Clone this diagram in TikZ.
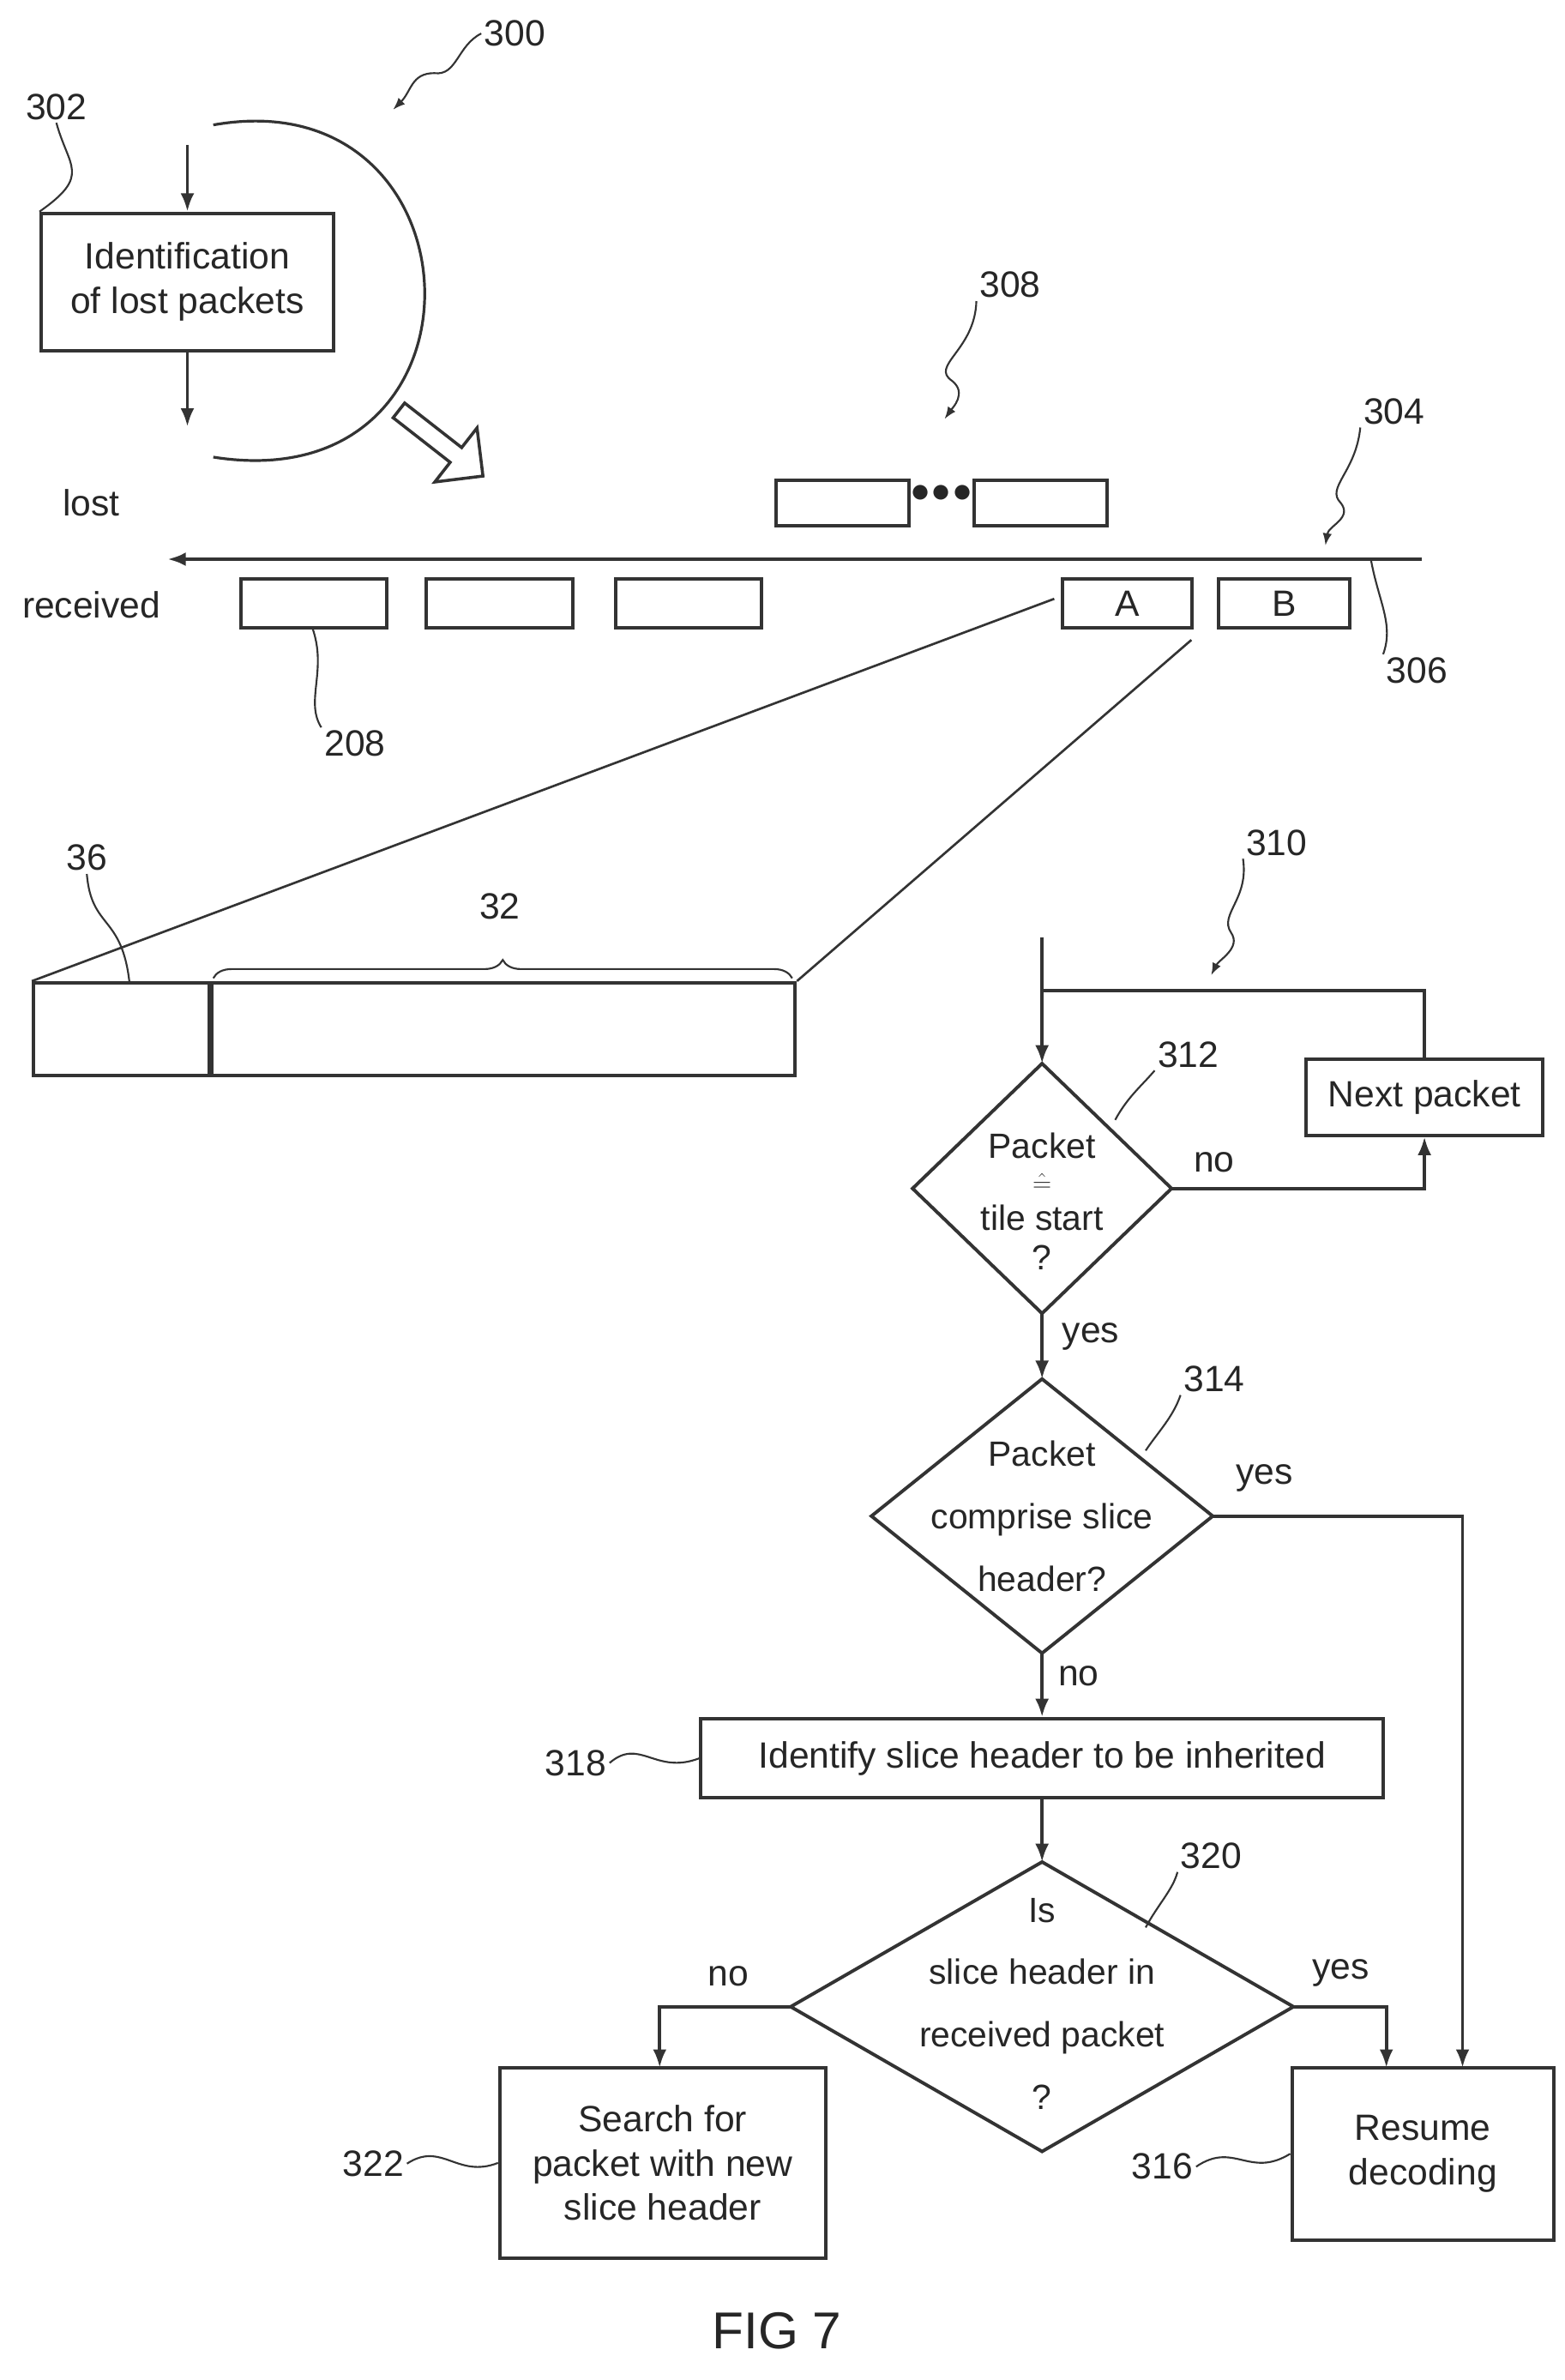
\documentclass[tikz,border=0pt]{standalone}
\usepackage{fontspec}
\setmainfont{Liberation Sans}
\usetikzlibrary{arrows.meta,shapes.geometric,decorations.pathreplacing,shapes.arrows}
\begin{document}
\begin{tikzpicture}[x=1pt,y=-1pt,line width=2.2pt,draw=black!80,
 every node/.style={font=\fontsize{24}{29}\selectfont,text=black!85},
 box/.style={draw,line width=2.2pt,inner sep=0pt},
 arr/.style={-{Latex[length=12pt,width=9pt]}},
 lead/.style={line width=1.2pt},
 lbl/.style={inner sep=1pt},
 dtext/.style={align=center,inner sep=0pt}]
\useasboundingbox (0,0) rectangle (1027,1562);
% top-left loop
\node[box,minimum width=192pt,minimum height=90pt,align=center] (idb) at (123,185) {Identification\\of lost packets};
\coordinate (in0) at (123,95);
\coordinate (out1) at (123,280);
\draw[arr] (in0) -- (idb.north);
\draw[arr] (idb.south) -- (out1);
\draw[line width=1.8pt] (140,82) .. controls (320,50) and (330,330) .. (140,300);
\node[lbl] (n302) at (37,70) {302};
\draw[lead] (n302.south) .. controls (45,110) and (60,115) .. (idb.north west);
\node[lbl] (n300) at (338,22) {300};
\coordinate (a300) at (258,72);
\draw[lead,-{Latex[length=8pt]}] (n300.west) .. controls (300,30) and (300,50) .. (285,48) .. controls (270,48) and (270,60) .. (a300);
\node[single arrow,draw,line width=2pt,fill=white,minimum height=70pt,minimum width=45pt,single arrow head extend=8pt,rotate=-38,inner sep=2pt] (bigarr) at (287,289) {};
% lost / received
\node (lost) at (60,330) {lost};
\node (rec) at (60,397) {received};
\node[box,minimum width=87pt,minimum height=30pt] (l1) at (553,330) {};
\node[box,minimum width=87pt,minimum height=30pt] (l2) at (683,330) {};
\node (dots) at (618,324) {$\bullet\!\bullet\!\bullet$};
\node[lbl] (n308) at (663,187) {308};
\coordinate (a308) at (620,275);
\draw[lead,-{Latex[length=8pt]}] (n308.south west) .. controls (640,230) and (610,240) .. (625,250) .. controls (635,258) and (625,268) .. (a308);
\coordinate (ls) at (933,367);
\coordinate (le) at (110,367);
\draw[arr] (ls) -- (le);
\node[lbl] (n304) at (915,270) {304};
\coordinate (a304) at (870,358);
\draw[lead,-{Latex[length=8pt]}] (n304.south west) .. controls (890,310) and (870,320) .. (880,330) .. controls (888,340) and (872,345) .. (a304);
\node[lbl] (n306) at (930,440) {306};
\draw[lead] (n306.north west) .. controls (915,410) and (905,395) .. (900,368);
\foreach \n/\x in {r1/206,r2/328,r3/452}{\node[box,minimum width=96pt,minimum height=32pt] (\n) at (\x,396) {};}
\node[box,minimum width=85pt,minimum height=32pt] (rA) at (740,396) {A};
\node[box,minimum width=86pt,minimum height=32pt] (rB) at (843,396) {B};
\node[lbl] (n208) at (233,488) {208};
\draw[lead] (n208.north west) .. controls (200,460) and (215,440) .. (205,412);
% zoom
\node[box,minimum width=500pt,minimum height=61pt] (pk) at (272,675.5) {};
\draw[line width=4pt] (138,645) -- (138,706);
\draw[line width=1.5pt] (692,393) -- (pk.north west);
\draw[line width=1.5pt] (782,420) -- (pk.north east);
\node[lbl] (n36) at (57,563) {36};
\draw[lead] (n36.south) .. controls (60,610) and (80,600) .. (85,645);
\node[lbl] (n32) at (328,595) {32};
\draw[lead,decorate,decoration={brace,amplitude=12pt}] (140,642) -- (520,642);
% flowchart
\node[lbl] (n310) at (838,553) {310};
\coordinate (a310) at (795,640);
\draw[lead,-{Latex[length=8pt]}] (n310.south west) .. controls (820,590) and (800,600) .. (808,612) .. controls (815,622) and (800,630) .. (a310);
% diamond 1
\coordinate (d1n) at (684,698); \coordinate (d1s) at (684,862);
\coordinate (d1w) at (599,780); \coordinate (d1e) at (769,780);
\draw (d1n) -- (d1e) -- (d1s) -- (d1w) -- cycle;
\node[dtext,font=\fontsize{23}{24}\selectfont] (t1a) at (684,752) {Packet};
\node[dtext,font=\fontsize{18}{18}\selectfont] (t1b) at (684,776) {$\hat{=}$};
\node[dtext,font=\fontsize{23}{26}\selectfont] (t1c) at (684,812) {tile start\\?};
\coordinate (st) at (684,615);
\draw[arr] (st) -- (d1n);
\node[box,minimum width=155pt,minimum height=50pt] (np) at (935,720) {Next packet};
\draw[arr] (d1e) -- (935,780) -- (np.south);
\draw (np.north) -- (935,650) -- (684,650);
\node at (797,763) {no};
\node[lbl] (n312) at (780,692) {312};
\draw[lead] (n312.south west) .. controls (750,712) and (740,720) .. (732,735);
% diamond 2
\coordinate (d2n) at (684,905); \coordinate (d2s) at (684,1085);
\coordinate (d2w) at (572,995); \coordinate (d2e) at (796,995);
\draw (d2n) -- (d2e) -- (d2s) -- (d2w) -- cycle;
\node[dtext,font=\fontsize{23}{41}\selectfont] (t2) at (684,995) {Packet\\comprise slice\\header?};
\draw[arr] (d1s) -- (d2n);
\node at (716,877) {yes};
\node[lbl] (n314) at (797,905) {314};
\draw[lead] (n314.south west) .. controls (770,930) and (760,940) .. (752,952);
\node[box,minimum width=448pt,minimum height=52pt] (b318) at (684,1154) {Identify slice header to be inherited};
\draw[arr] (d2s) -- (b318.north);
\node at (708,1100) {no};
\node[lbl] (n318) at (378,1157) {318};
\draw[lead] (n318.east) .. controls (420,1140) and (430,1165) .. (b318.west);
% diamond 3
\coordinate (d3n) at (684,1222); \coordinate (d3s) at (684,1412);
\coordinate (d3w) at (519,1317); \coordinate (d3e) at (849,1317);
\draw (d3n) -- (d3e) -- (d3s) -- (d3w) -- cycle;
\node[dtext,font=\fontsize{23}{41}\selectfont] (t3) at (684,1315) {Is\\slice header in\\received packet\\?};
\draw[arr] (b318.south) -- (d3n);
\node[lbl] (n320) at (795,1218) {320};
\draw[lead] (n320.south west) .. controls (770,1240) and (760,1250) .. (752,1265);
\node[box,minimum width=214pt,minimum height=125pt,align=center] (b322) at (435,1419.5) {Search for\\packet with new\\slice header};
\node[box,minimum width=172pt,minimum height=113pt,align=center] (b316) at (934,1413.5) {Resume\\decoding};
\draw[arr] (d3w) -- (433,1317) -- (433,1357);
\node at (478,1297) {no};
\draw[arr] (d3e) -- (910,1317) -- (910,1357);
\node at (880,1295) {yes};
\draw[arr] (d2e) -- (960,995) -- (960,1357);
\node at (830,970) {yes};
\node[lbl] (n322) at (245,1420) {322};
\draw[lead] (n322.east) .. controls (290,1405) and (300,1430) .. (b322.west);
\node[lbl] (n316) at (763,1422) {316};
\draw[lead] (n316.east) .. controls (810,1405) and (820,1430) .. (b316.west);
\node[font=\fontsize{34}{40}\selectfont] (fig) at (510,1530) {FIG 7};
\end{tikzpicture}
\end{document}
